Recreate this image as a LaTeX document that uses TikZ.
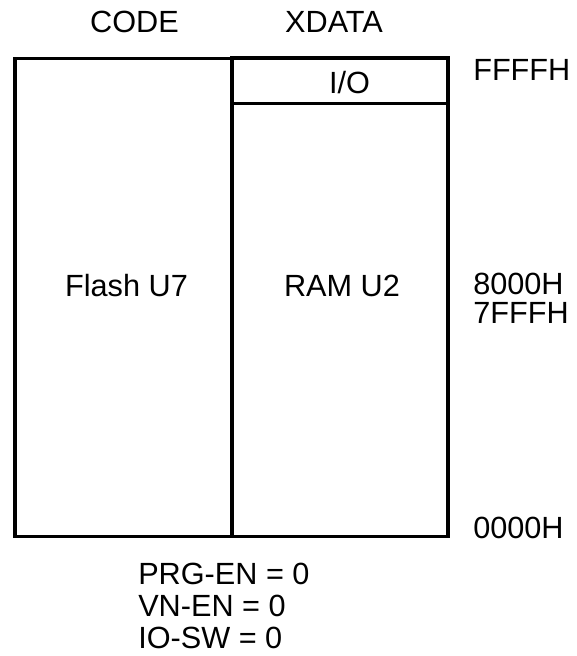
\documentclass[tikz,border=0pt]{standalone}
\usepackage{fontspec}
\setmainfont{Liberation Sans}
\usetikzlibrary{positioning}
\tikzset{
  mem/.style={draw, line width=2.4pt, inner sep=0pt},
  lbl/.style={inner sep=0pt, anchor=base, font=\fontsize{23}{22}\selectfont},
  addr/.style={lbl, anchor=base west},
}
\begin{document}
\begin{tikzpicture}[x=0.75pt, y=-0.75pt]
  \useasboundingbox (0,0) rectangle (576,656);
  % memory blocks, one column per space
  \node[mem, minimum width=217*0.75pt, minimum height=478*0.75pt] (flash) at (123.5,297.5) {};
  \node[mem, minimum width=216*0.75pt, minimum height=478.5*0.75pt] (ram) at (340,297.25) {};
  \node[mem, minimum width=216*0.75pt, minimum height=45.5*0.75pt, anchor=north] (io) at (ram.north) {};
  % block names
  \node[lbl] (code) at (134.5,33) {CODE};
  \node[lbl] (xdata) at (334,33) {XDATA};
  \node[lbl] (iotxt) at (349.5,93.3) {I/O};
  \node[lbl] (flashtxt) at (126.5,296.8) {Flash U7};
  \node[lbl] (ramtxt) at (342,296.8) {RAM U2};
  % address marks
  \node[addr] (ffff) at (473,80.7) {FFFFH};
  \node[lbl, anchor=north west, align=left, font=\fontsize{23}{21.75}\selectfont] (mid) at (473,272.7)
    {8000H\\7FFFH};
  \node[addr] (zero) at (473,538) {0000H};
  % jumper settings
  \node[lbl, anchor=north west, align=left, font=\fontsize{23}{24}\selectfont] (cfg) at (138,562.5)
    {PRG-EN = 0\\VN-EN = 0\\IO-SW = 0};
\end{tikzpicture}
\end{document}
